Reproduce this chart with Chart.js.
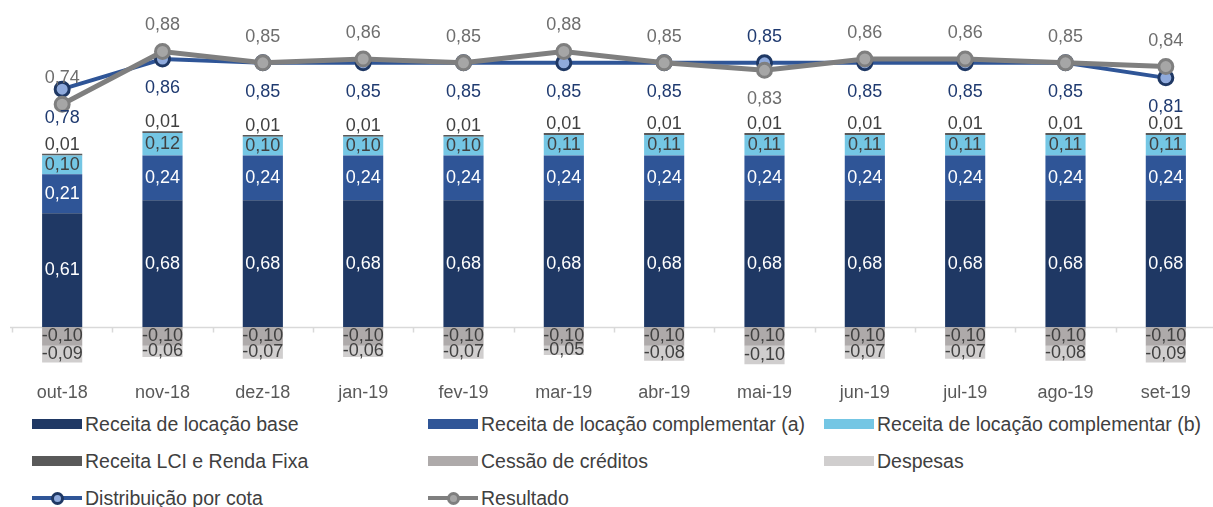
<!DOCTYPE html>
<html>
<head>
<meta charset="utf-8">
<script src="https://cdn.jsdelivr.net/npm/chart.js@4/dist/chart.umd.min.js"></script>
<style>
  body { margin: 0; background: #fff; overflow: hidden; font-family: "Liberation Sans", Arial, sans-serif; }
  #wrap { position: relative; width: 1226px; height: 422px; }
  #legend { display: grid; grid-template-columns: 396px 396px 396px; padding-left: 32px; row-gap: 17px; margin-top: -8px; }
  .item { display: flex; align-items: center; height: 20px; font-size: 19.5px; color: #404040; white-space: nowrap; }
  .box { width: 50px; height: 10px; margin-right: 3px; flex: none; }
  .line { position: relative; width: 50px; height: 20px; margin-right: 3px; flex: none; }
  .line .bar { position: absolute; left: 0; right: 0; top: 8px; height: 4px; }
  .line .dot { position: absolute; left: 19px; top: 4px; width: 7px; height: 7px; border-radius: 50%; border-width: 3px; border-style: solid; }
</style>
</head>
<body>
<div id="wrap"><canvas id="myChart"></canvas></div>
<div id="legend"></div>
<script>
const categories = ['out-18', 'nov-18', 'dez-18', 'jan-19', 'fev-19', 'mar-19', 'abr-19', 'mai-19', 'jun-19', 'jul-19', 'ago-19', 'set-19'];

const receitaBase = [0.61, 0.68, 0.68, 0.68, 0.68, 0.68, 0.68, 0.68, 0.68, 0.68, 0.68, 0.68];
const receitaCompA = [0.21, 0.24, 0.24, 0.24, 0.24, 0.24, 0.24, 0.24, 0.24, 0.24, 0.24, 0.24];
const receitaCompB = [0.10, 0.12, 0.10, 0.10, 0.10, 0.11, 0.11, 0.11, 0.11, 0.11, 0.11, 0.11];
const receitaLCI = [0.01, 0.01, 0.01, 0.01, 0.01, 0.01, 0.01, 0.01, 0.01, 0.01, 0.01, 0.01];
const cessaoCreditos = [-0.10, -0.10, -0.10, -0.10, -0.10, -0.10, -0.10, -0.10, -0.10, -0.10, -0.10, -0.10];
const despesas = [-0.09, -0.06, -0.07, -0.06, -0.07, -0.05, -0.08, -0.10, -0.07, -0.07, -0.08, -0.09];
const distribuicao = [0.78, 0.86, 0.85, 0.85, 0.85, 0.85, 0.85, 0.85, 0.85, 0.85, 0.85, 0.81];
const resultado = [0.74, 0.88, 0.85, 0.86, 0.85, 0.88, 0.85, 0.83, 0.86, 0.86, 0.85, 0.84];

// meses em que os rótulos das linhas trocam de lado
const swapLabels = ['mai-19'];

const fmt = v => v.toFixed(2).replace('.', ',');
const FONT = '"Liberation Sans", Arial, sans-serif';

const barSets = [
    { label: 'Receita de locação base', data: receitaBase, color: '#1F3864', text: '#ffffff' },
    { label: 'Receita de locação complementar (a)', data: receitaCompA, color: '#2F5597', text: '#ffffff' },
    { label: 'Receita de locação complementar (b)', data: receitaCompB, color: '#74C6E4', text: '#404040' },
    { label: 'Receita LCI e Renda Fixa', data: receitaLCI, color: '#595959', text: '#404040', above: true },
    { label: 'Cessão de créditos', data: cessaoCreditos, color: '#AEAAAA', text: '#404040' },
    { label: 'Despesas', data: despesas, color: '#D0CECE', text: '#404040' }
];

const datasets = barSets.map(s => ({
    type: 'bar',
    label: s.label,
    data: s.data,
    backgroundColor: s.color,
    stack: 's',
    yAxisID: 'y',
    order: 10,
    barPercentage: 0.4,
    categoryPercentage: 1,
    labelColor: s.text,
    labelAbove: !!s.above
}));

datasets.push({
    type: 'line', label: 'Distribuição por cota', data: distribuicao, yAxisID: 'y2', order: 2,
    borderColor: '#2F5597', borderWidth: 4, pointRadius: 7, pointBorderWidth: 3,
    pointBackgroundColor: '#8FAADC', pointBorderColor: '#1F3864', labelColor: '#1F3A70', lineSide: 'below'
});
datasets.push({
    type: 'line', label: 'Resultado', data: resultado, yAxisID: 'y2', order: 1,
    borderColor: '#7F7F7F', borderWidth: 5, pointRadius: 7, pointBorderWidth: 3,
    pointBackgroundColor: '#A6A6A6', pointBorderColor: '#7F7F7F', labelColor: '#6E6E6E', lineSide: 'above'
});

// linha do zero com pequenos traços entre categorias
const zeroLine = {
    id: 'zeroLine',
    beforeDatasetsDraw(chart) {
        const { ctx, chartArea, scales } = chart;
        const y0 = Math.round(scales.y.getPixelForValue(0)) + 0.5;
        const step = scales.x.getPixelForValue(1) - scales.x.getPixelForValue(0);
        ctx.save();
        ctx.strokeStyle = '#D9D9D9';
        ctx.lineWidth = 1.5;
        ctx.beginPath();
        ctx.moveTo(chartArea.left - 2, y0);
        ctx.lineTo(chartArea.right, y0);
        for (let i = 0; i <= categories.length; i++) {
            const x = Math.round(scales.x.getPixelForValue(i) - step / 2) + 0.5;
            ctx.moveTo(x, y0);
            ctx.lineTo(x, y0 + 5);
        }
        ctx.stroke();
        ctx.restore();
    }
};

const valueLabels = {
    id: 'valueLabels',
    afterDatasetsDraw(chart) {
        const ctx = chart.ctx;
        ctx.save();
        ctx.font = '18px ' + FONT;
        ctx.textAlign = 'center';
        ctx.textBaseline = 'middle';
        chart.data.datasets.forEach((ds, i) => {
            const meta = chart.getDatasetMeta(i);
            meta.data.forEach((el, j) => {
                const v = ds.data[j];
                ctx.fillStyle = ds.labelColor;
                if (ds.type === 'bar') {
                    const y = ds.labelAbove ? el.y - 9 : (el.y + el.base) / 2;
                    ctx.fillText(fmt(v), el.x, y);
                } else {
                    let side = ds.lineSide;
                    if (swapLabels.includes(categories[j])) side = side === 'above' ? 'below' : 'above';
                    const y = side === 'above' ? el.y - 26 : el.y + 29;
                    ctx.fillText(fmt(v), el.x, y);
                }
            });
        });
        ctx.restore();
    }
};

new Chart(document.getElementById('myChart'), {
    data: { labels: categories, datasets: datasets },
    options: {
        responsive: true,
        maintainAspectRatio: false,
        animation: false,
        layout: { padding: { left: 12, right: 2, top: 8, bottom: 0 } },
        plugins: { legend: { display: false }, tooltip: { enabled: false } },
        scales: {
            x: {
                stacked: true,
                grid: { display: false, drawTicks: false },
                border: { display: false },
                ticks: { color: '#595959', font: { size: 18, family: FONT }, padding: 18 }
            },
            y: { stacked: true, display: false, min: -0.2, max: 1.7 },
            y2: { display: false, min: 0.05, max: 0.99 }
        }
    },
    plugins: [zeroLine, valueLabels]
});

// legenda em HTML, três colunas
const legendEl = document.getElementById('legend');
datasets.forEach(ds => {
    let icon;
    if (ds.type === 'bar') {
        icon = `<span class="box" style="background:${ds.backgroundColor}"></span>`;
    } else {
        icon = `<span class="line"><span class="bar" style="background:${ds.borderColor}"></span>
                <span class="dot" style="background:${ds.pointBackgroundColor};border-color:${ds.pointBorderColor}"></span></span>`;
    }
    legendEl.innerHTML += `<div class="item">${icon}<span>${ds.label}</span></div>`;
});
</script>
</body>
</html>
